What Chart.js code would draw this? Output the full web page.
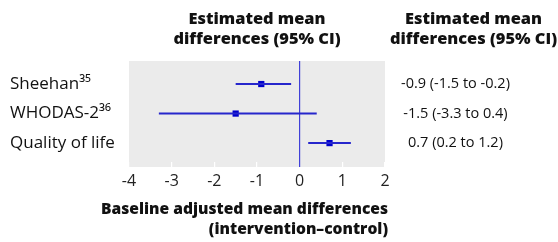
<!DOCTYPE html>
<html>
<head>
<meta charset="utf-8">
<script src="https://cdn.jsdelivr.net/npm/chart.js@4/dist/chart.umd.min.js"></script>
<style>
html,body{margin:0;padding:0;background:#fff;}
#wrap{width:558px;height:242px;position:relative;}
</style>
</head>
<body>
<div id="wrap"><canvas id="c" width="558" height="242"></canvas></div>
<script>
const outcomes = ['Sheehan\u00B3\u2075', 'WHODAS-2\u00B3\u2076', 'Quality of life'];
const estimates = [-0.9, -1.5, 0.7];
const lowerCI = [-1.5, -3.3, 0.2];
const upperCI = [-0.2, 0.4, 1.2];
const ciLabels = ['-0.9 (-1.5 to -0.2)', '-1.5 (-3.3 to 0.4)', '0.7 (0.2 to 1.2)'];
const xTicks = [-4, -3, -2, -1, 0, 1, 2];
const headerText = ['Estimated mean', 'differences (95% CI)'];
const xTitle = ['Baseline adjusted mean differences', '(intervention\u2013control)'];

const BLUE = '#0000cc';
const LINE_BLUE = '#2626cc';
const ZERO_BLUE = '#4040d8';
const FONT = '"Open Sans", "Noto Sans", sans-serif';

const rowY = outcomes.map((_, i) => i + 1);

const datasets = [];
outcomes.forEach((o, i) => {
  datasets.push({
    data: [{x: lowerCI[i], y: rowY[i]}, {x: upperCI[i], y: rowY[i]}],
    showLine: true, borderColor: LINE_BLUE, borderWidth: 2, pointRadius: 0
  });
});
datasets.push({
  data: estimates.map((e, i) => ({x: e, y: rowY[i]})),
  pointStyle: 'rect', pointRadius: 4.4, backgroundColor: BLUE, borderColor: BLUE, borderWidth: 0
});

const bgPlugin = {
  id: 'panelBg',
  beforeDraw(chart) {
    const {ctx, chartArea} = chart;
    const tl = chart.scales.x.options.grid.tickLength;
    ctx.save();
    ctx.fillStyle = '#ebebeb';
    ctx.fillRect(chartArea.left, chartArea.top, chartArea.right - chartArea.left, chartArea.bottom - chartArea.top + tl);
    ctx.restore();
  },
  afterDraw(chart) {
    const {ctx} = chart;
    const xs = chart.scales.x, ys2 = chart.scales.y2;
    ctx.save();
    ctx.fillStyle = '#111';
    ctx.font = '800 16.4px ' + FONT;
    ctx.textAlign = 'center';
    ctx.textBaseline = 'middle';
    const c1 = (xs.left + xs.right) / 2;
    const c2 = (ys2.left + ys2.right) / 2 + 2;
    headerText.forEach((t, k) => {
      ctx.fillText(t, c1, 19 + k * 20);
      ctx.fillText(t, c2, 19 + k * 20);
    });
    // axis title, right-aligned just past the panel edge
    ctx.font = '800 15.6px ' + FONT;
    ctx.textAlign = 'right';
    xTitle.forEach((t, k) => {
      ctx.fillText(t, xs.right + 3, 210 + k * 20);
    });
    ctx.restore();
  }
};

new Chart(document.getElementById('c'), {
  type: 'scatter',
  data: {datasets},
  plugins: [bgPlugin],
  options: {
    responsive: false,
    animation: false,
    devicePixelRatio: 1,
    layout: {padding: {top: 61, left: 10, right: 0, bottom: 0}},
    plugins: {legend: {display: false}, tooltip: {enabled: false}},
    scales: {
      x: {
        type: 'linear', min: -4, max: 2,
        afterBuildTicks: s => { s.ticks = xTicks.map(v => ({value: v})); },
        afterFit: s => { s.height = 80; },
        border: {display: false},
        grid: {
          drawOnChartArea: true,
          color: c => (c.tick && c.tick.value === 0) ? ZERO_BLUE : 'rgba(0,0,0,0)',
          tickColor: c => (c.tick && c.tick.value === 0) ? ZERO_BLUE : '#ffffff',
          tickLength: 5, lineWidth: 1.2
        },
        ticks: {
          padding: 5, color: '#222', font: {family: FONT, size: 16},
          callback: v => String(v)
        },
        title: {display: false}
      },
      y: {
        type: 'linear', position: 'left', reverse: true, min: 0.22, max: 3.64,
        afterBuildTicks: s => { s.ticks = rowY.map(v => ({value: v})); },
        afterFit: s => { s.width = 119; },
        border: {display: false},
        grid: {display: false},
        ticks: {
          crossAlign: 'far', color: '#111', font: {family: FONT, size: 17},
          callback: (v) => outcomes[Math.round(v) - 1]
        }
      },
      y2: {
        type: 'linear', position: 'right', reverse: true, min: 0.22, max: 3.64,
        afterBuildTicks: s => { s.ticks = rowY.map(v => ({value: v})); },
        afterFit: s => { s.width = 173; },
        border: {display: false},
        grid: {display: false, drawTicks: false},
        ticks: {
          crossAlign: 'center', padding: 16, color: '#111', font: {family: FONT, size: 14.5},
          callback: (v) => ciLabels[Math.round(v) - 1]
        }
      }
    }
  }
});
</script>
</body>
</html>
